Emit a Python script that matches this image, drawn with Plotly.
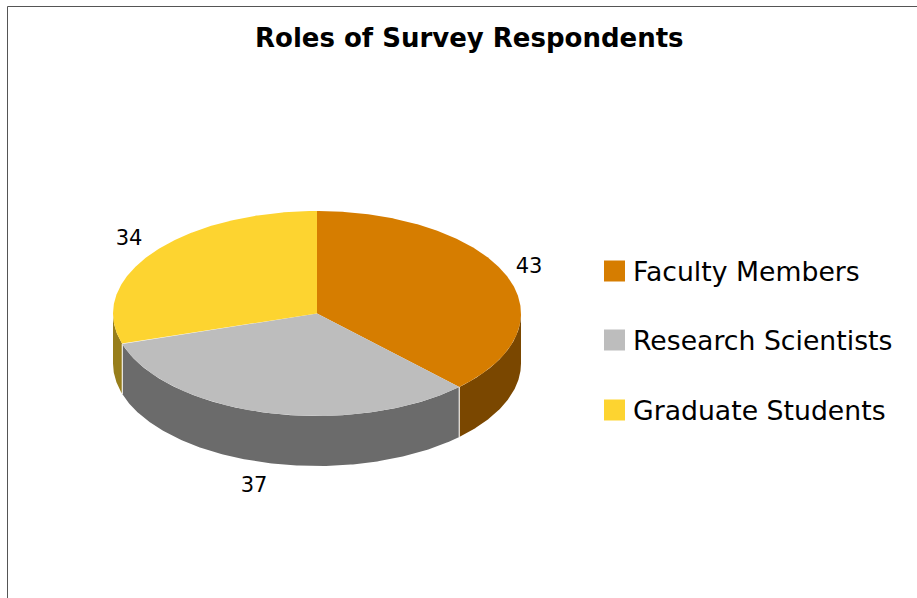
import numpy as np
import plotly.graph_objects as go

categories = ["Faculty Members", "Research Scientists", "Graduate Students"]
values = [43, 37, 34]
title_text = "Roles of Survey Respondents"

TOP_COLORS = ["#D67D00", "#BDBDBD", "#FDD430"]
WALL_COLORS = ["#7A4700", "#6B6B6B", "#977E1B"]
FONT = "DejaVu Sans"

# Pie geometry, in pixel units of the hidden axes
CX, CY, RX, RY, DEPTH = 317.0, 313.5, 204.0, 102.5, 50
LABEL_XY = [(529, 268), (254, 487), (129, 240)]
KEY_X = 614.5
KEY_Y = [271, 340, 410]
KEY_TEXT_X = 633


def rim(theta, drop=0.0):
    """Point on the ellipse; theta in radians clockwise from 12 o'clock."""
    return CX + RX * np.sin(theta), CY - RY * np.cos(theta) + drop


edges = np.concatenate([[0], np.cumsum(values)]) / sum(values) * 2 * np.pi
fig = go.Figure()

# Side walls: only the part of each slice on the front half of the ellipse
for i in range(len(values)):
    a, b = max(edges[i], np.pi / 2), min(edges[i + 1], 3 * np.pi / 2)
    if a >= b:
        continue
    t = np.linspace(a, b, 200)
    x1, y1 = rim(t)
    x2, y2 = rim(t[::-1], DEPTH)
    fig.add_trace(go.Scatter(
        x=np.concatenate([x1, x2]), y=np.concatenate([y1, y2]),
        mode="lines", fill="toself", fillcolor=WALL_COLORS[i],
        line=dict(width=0), hoverinfo="skip", showlegend=False))

# White seams where two walls meet
for e in edges[1:-1]:
    if np.pi / 2 < e < 3 * np.pi / 2:
        x1, y1 = rim(e)
        _, y2 = rim(e, DEPTH)
        fig.add_trace(go.Scatter(
            x=[x1, x1], y=[y1, y2], mode="lines",
            line=dict(color="rgba(255,255,255,0.85)", width=1.2),
            hoverinfo="skip", showlegend=False))

# Top faces
for i, cat in enumerate(categories):
    t = np.linspace(edges[i], edges[i + 1], 300)
    x1, y1 = rim(t)
    fig.add_trace(go.Scatter(
        x=np.concatenate([[CX], x1, [CX]]), y=np.concatenate([[CY], y1, [CY]]),
        mode="lines", fill="toself", fillcolor=TOP_COLORS[i],
        line=dict(width=0), name=cat, hoverinfo="skip", showlegend=False))

# Value labels
fig.add_trace(go.Scatter(
    x=[p[0] for p in LABEL_XY], y=[p[1] for p in LABEL_XY],
    mode="text", text=[str(v) for v in values], textposition="middle center",
    textfont=dict(family=FONT, size=21, color="#000000"),
    hoverinfo="skip", showlegend=False))

# Legend keys and labels
for i, cat in enumerate(categories):
    fig.add_trace(go.Scatter(
        x=[KEY_X], y=[KEY_Y[i]], mode="markers",
        marker=dict(symbol="square", size=21, color=TOP_COLORS[i], line=dict(width=0)),
        hoverinfo="skip", showlegend=False))
    fig.add_annotation(x=KEY_TEXT_X, y=KEY_Y[i], xref="x", yref="y", text=cat,
                       showarrow=False, xanchor="left", yanchor="middle", xshift=-2,
                       font=dict(family=FONT, size=26.7, color="#000000"))

fig.add_annotation(x=469, y=38, xref="x", yref="y", text=f"<b>{title_text}</b>",
                   showarrow=False, xanchor="center", yanchor="middle",
                   font=dict(family=FONT, size=26, color="#000000"))

# Thin frame on the top and left edges
fig.add_shape(type="line", x0=7.5, x1=917, y0=6.5, y1=6.5, xref="x", yref="y",
              line=dict(color="#555555", width=1))
fig.add_shape(type="line", x0=7.5, x1=7.5, y0=6.5, y1=598, xref="x", yref="y",
              line=dict(color="#555555", width=1))

fig.update_layout(
    width=917, height=598, autosize=False,
    margin=dict(l=0, r=0, t=0, b=0),
    paper_bgcolor="#FFFFFF", plot_bgcolor="#FFFFFF",
    showlegend=False, hovermode=False,
    xaxis=dict(range=[0, 917], visible=False, fixedrange=True),
    yaxis=dict(range=[598, 0], visible=False, fixedrange=True),
)
fig.write_html(
    "out.html",
    config={"displayModeBar": False},
    post_script="document.body.style.margin='0';document.body.style.overflow='hidden';",
)
